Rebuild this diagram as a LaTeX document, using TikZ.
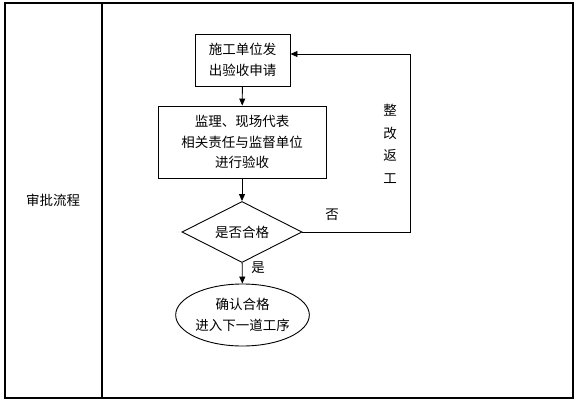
\documentclass[tikz,border=0pt]{standalone}
\usepackage{fontspec}
\setmainfont{Noto Sans CJK SC}
\usetikzlibrary{shapes.geometric,arrows.meta}
\begin{document}
\begin{tikzpicture}[x=1pt,y=-1pt,
  every node/.style={font=\fontsize{13.5}{20.5}\selectfont, inner sep=0pt},
  frame/.style={draw=black, line width=1.1pt},
  procbox/.style={draw=black, line width=0.9pt, rectangle, align=center},
  decis/.style={draw=black, line width=0.9pt, diamond, aspect=2, align=center},
  term/.style={draw=black, line width=0.9pt, ellipse, align=center},
  flow/.style={draw=black, line width=0.9pt, -{Triangle[length=7pt,width=6pt]}},
  lbl/.style={align=center}]
\useasboundingbox (0,0) rectangle (577,401);
% table frame
\draw[frame] (5,3) rectangle (573,398);
\draw[frame] (102,3) -- (102,398);
\node[lbl] (title) at (53,200) {审批流程};
% flow nodes
\node[procbox, minimum width=95pt, minimum height=52pt] (apply) at (242.5,60) {施工单位发\\出验收申请};
\node[procbox, minimum width=168pt, minimum height=72pt] (check) at (242,142) {监理、现场代表\\相关责任与监督单位\\进行验收};
\node[decis, minimum width=120pt, minimum height=61pt] (ok) at (242,232) {\raisebox{-4pt}{是否合格}};
\node[term, minimum width=121pt, minimum height=62pt] (next) at (242.5,315) {确认合格\\进入下一道工序};
% connectors
\draw[flow] (apply) -- (check);
\draw[flow] (check) -- (ok);
\draw[flow] (ok) -- (next);
\coordinate (fbA) at (410,232);
\coordinate (fbB) at (410,54);
\draw[flow] (ok.east) -- (fbA) -- (fbB) -- (apply.east |- fbB);
% labels
\node[lbl] (no) at (332,215) {否};
\node[lbl] (yes) at (258,268) {是};
\node[lbl, font=\fontsize{13.5}{22.5}\selectfont] (rework) at (390,144) {整\\改\\返\\工};
\end{tikzpicture}
\end{document}
